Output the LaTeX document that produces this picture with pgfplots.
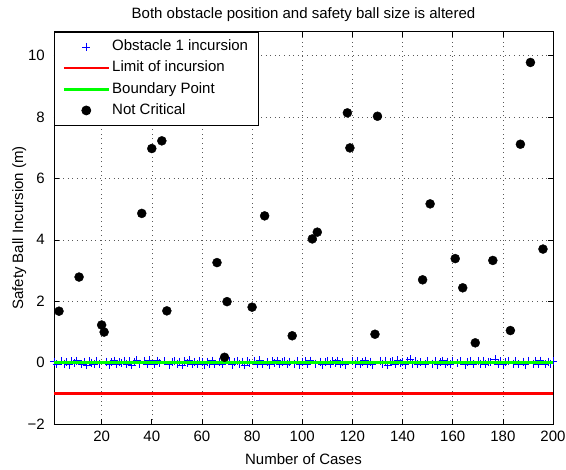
\documentclass[border=0pt]{standalone}
\usepackage{pgfplots}
\pgfplotsset{compat=1.18}
\usepackage{fontspec}
\setmainfont{Liberation Sans}

% case number / incursion of the non-critical cases
\pgfplotstableread{
x y
3 1.68
11 2.79
20 1.23
21 1.00
36 4.86
40 6.97
44 7.22
46 1.69
66 3.26
69 0.18
70 1.99
80 1.81
85 4.78
96 0.88
104 4.03
106 4.25
118 8.13
119 6.99
129 0.93
130 8.02
148 2.70
151 5.17
161 3.39
164 2.44
169 0.65
176 3.33
183 1.05
187 7.11
191 9.77
196 3.70
}\notcritical

% remaining cases, incursion close to zero
\pgfplotstableread{
x y
1 0.04
2 -0.05
4 0.06
5 -0.03
6 0.02
7 -0.06
8 0.05
9 -0.02
10 0.07
12 -0.04
13 0.03
14 -0.07
15 0.05
16 0.01
17 -0.05
18 0.06
19 -0.03
22 0.04
23 -0.06
24 0.02
25 0.07
26 -0.04
27 0.03
28 -0.02
29 0.06
30 -0.05
31 0.05
32 -0.07
33 0.02
34 0.08
35 -0.03
37 0.06
38 -0.05
39 0.09
41 -0.04
42 0.07
43 -0.02
45 0.05
47 -0.06
48 0.03
49 0.06
50 -0.03
51 0.04
52 -0.07
53 0.05
54 -0.02
55 0.08
56 -0.05
57 0.03
58 -0.04
59 0.06
60 0.02
61 -0.06
62 0.04
63 -0.03
64 0.07
65 -0.05
67 0.03
68 -0.04
71 0.05
72 -0.06
73 0.02
74 0.06
75 -0.03
76 0.04
77 -0.07
78 0.05
79 -0.02
81 0.06
82 -0.04
83 0.08
84 -0.05
86 0.03
87 -0.06
88 0.05
89 -0.02
90 0.07
91 -0.04
92 0.02
93 0.06
94 -0.05
95 0.04
97 -0.03
98 0.06
99 -0.06
100 0.03
101 0.05
102 -0.04
103 0.07
105 -0.03
107 0.04
108 -0.06
109 0.02
110 0.06
111 -0.05
112 0.05
113 -0.02
114 0.07
115 -0.04
116 0.03
117 -0.06
120 0.05
121 -0.03
122 0.06
123 -0.05
124 0.02
125 0.07
126 -0.04
127 0.04
128 -0.06
131 0.05
132 -0.03
133 0.06
134 -0.07
135 0.03
136 0.05
137 -0.04
138 0.08
139 -0.02
140 0.04
141 -0.06
142 0.06
143 0.11
144 -0.03
145 0.05
146 -0.05
147 0.03
149 -0.04
150 0.06
152 -0.03
153 0.05
154 -0.06
155 0.02
156 0.07
157 -0.04
158 0.04
159 -0.05
160 0.06
162 -0.02
163 0.05
165 -0.06
166 0.03
167 0.06
168 -0.04
170 0.05
171 -0.03
172 0.06
173 -0.05
174 0.04
175 0.02
177 0.12
178 -0.04
179 0.05
180 -0.06
181 0.03
182 0.06
184 -0.03
185 0.05
186 -0.05
188 0.04
189 -0.06
190 0.06
192 -0.03
193 0.05
194 -0.04
195 0.07
197 -0.05
198 0.04
199 -0.03
200 0.05
}\incursion

\begin{document}
\fontsize{15}{18}\selectfont
\begin{tikzpicture}
\begin{axis}[
  scale only axis, width=499pt, height=392.6pt,
  xmin=1, xmax=200, ymin=-2, ymax=10.77,
  clip=false, clip marker paths=true,
  xtick={20,40,...,200}, ytick={-2,0,...,10},
  yticklabels={−2,0,2,4,6,8,10},
  xtick pos=both, ytick pos=both, tick align=inside,
  major tick length=5pt,
  tick style={black, line width=0.6pt},
  axis line style={black, line width=0.8pt},
  grid=major,
  major grid style={black!65, line width=0.5pt, dash pattern=on 0.8pt off 3.8pt},
  /pgf/number format/assume math mode=true,
  x tick label style={yshift=-1.5pt},
  y tick label style={xshift=-4pt},
  every axis title shift=0pt,
  title={Both obstacle position and safety ball size is altered},
  title style={at={(axis description cs:0.5,1.0326)}, anchor=base, inner sep=0pt},
  xlabel={Number of Cases},
  xlabel style={at={(axis description cs:0.5,-0.102)}, anchor=base, inner sep=0pt},
  ylabel={Safety Ball Incursion (m)},
  ylabel style={at={(axis description cs:-0.0621,0.5)}, anchor=base, inner sep=0pt},
  legend cell align=left,
  legend style={at={(0,1)}, anchor=north west, draw=black, line width=0.8pt,
    inner xsep=8pt, inner ysep=7.5pt, row sep=6.7pt,
    nodes={inner xsep=2pt, inner ysep=0pt, text height=11pt, text depth=3.5pt}},
  legend image code/.code={\draw[mark repeat=2,mark phase=2,#1]
    plot coordinates {(0pt,0pt) (22.5pt,0pt) (45pt,0pt)};},
]
\addplot[only marks, mark=+, mark size=4pt, blue, line width=0.5pt]
  table[x=x, y=y] {\incursion};
\addlegendentry{Obstacle 1 incursion}
\addplot[red, line width=2.6pt, no marks] coordinates {(1,-1) (200,-1)};
\addlegendentry{Limit of incursion}
\addplot[green, line width=2.8pt, no marks] coordinates {(1,0) (200,0)};
\addlegendentry{Boundary Point}
\addplot[only marks, mark=*, mark size=4.5pt, black]
  table[x=x, y=y] {\notcritical};
\addlegendentry{Not Critical}
\coordinate (sw) at (rel axis cs:0,0);
\coordinate (ne) at (rel axis cs:1,1);
\end{axis}
\pgfresetboundingbox
\useasboundingbox ([xshift=-54pt,yshift=-44.7pt]sw) rectangle ([xshift=13pt,yshift=31.7pt]ne);
\end{tikzpicture}
\end{document}
